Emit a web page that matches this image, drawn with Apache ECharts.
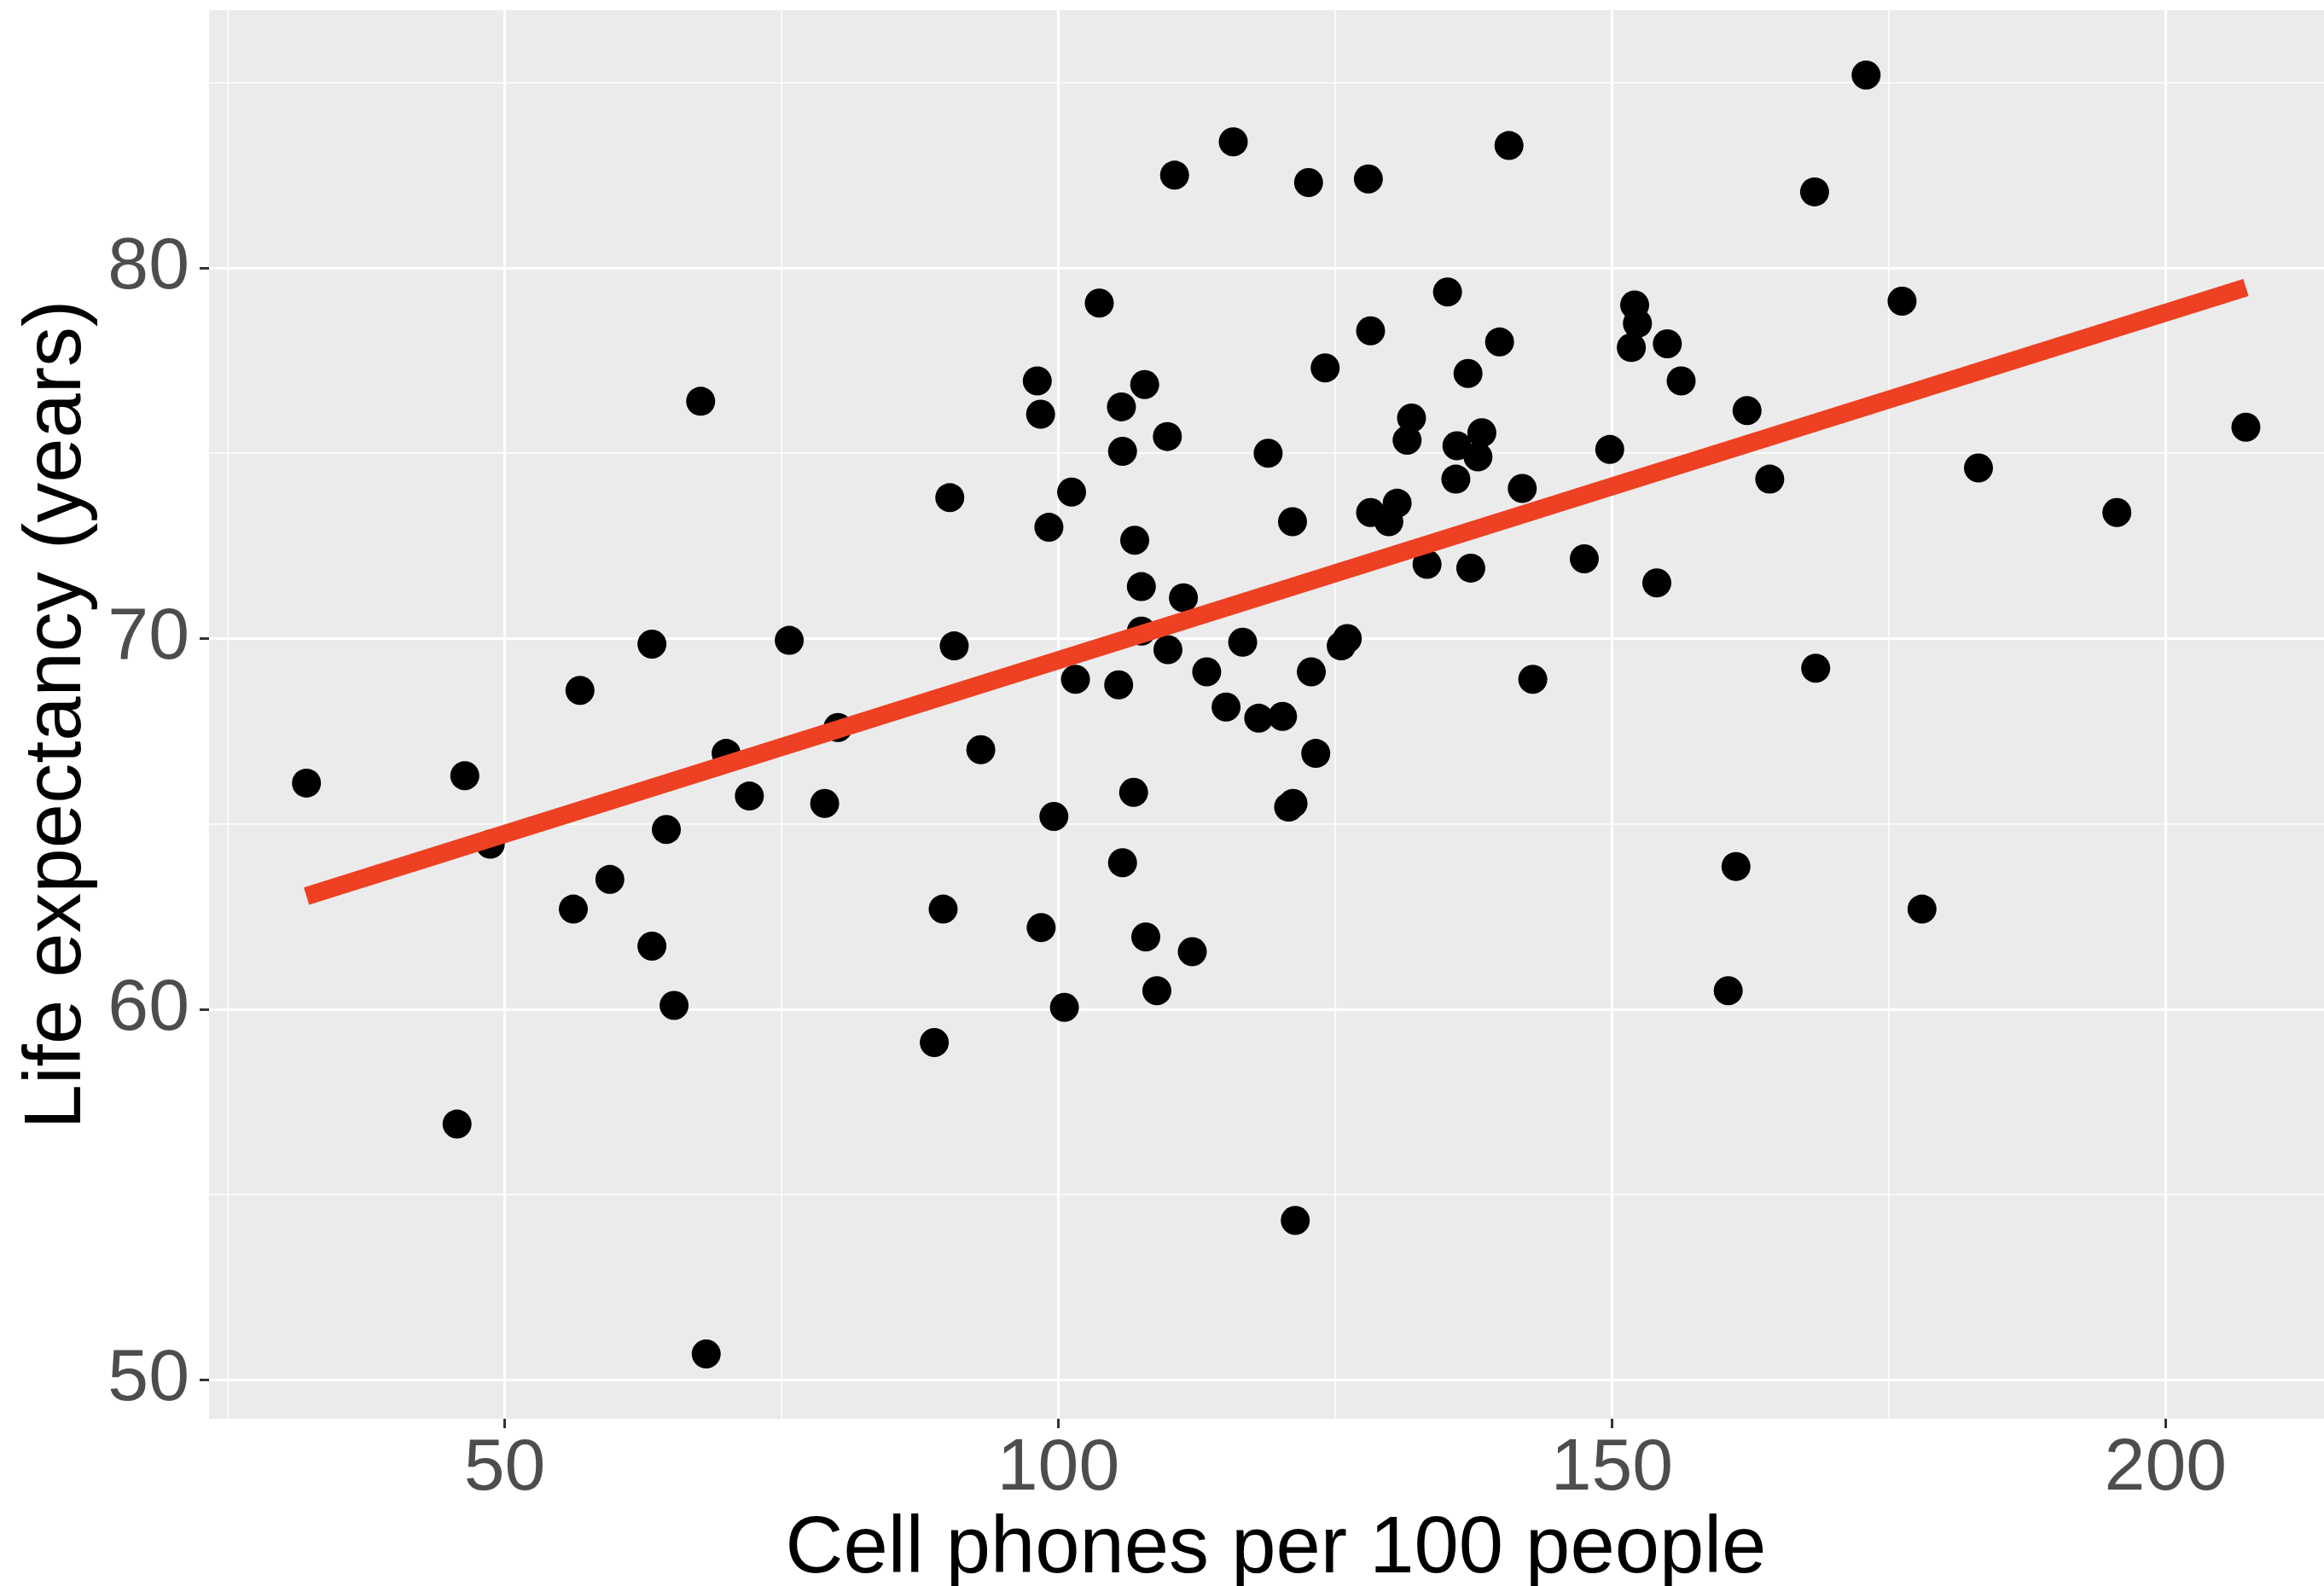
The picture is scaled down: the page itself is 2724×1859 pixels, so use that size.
<!DOCTYPE html>
<html>
<head>
<meta charset="utf-8">
<script src="https://cdn.jsdelivr.net/npm/echarts@6/dist/echarts.min.js"></script>
<style>
  html, body { margin: 0; padding: 0; background: #ffffff; }
  #chart { width: 2724px; height: 1859px; }
</style>
</head>
<body>
<div id="chart"></div>
<script>
// cell phones per 100 people (x) and life expectancy in years (y), one entry per country
const phonesPer100 = [
  32.1, 46.4, 45.7, 48.7, 56.2, 56.8, 59.5, 63.3, 63.3, 64.6,
  65.3, 67.7, 68.2, 70.0, 72.1, 75.7, 78.9, 80.1, 88.8, 89.6,
  90.2, 90.6, 93.0, 98.1, 98.4, 98.45, 99.15, 99.6, 100.55, 101.2,
  101.55, 103.7, 105.45, 105.7, 105.8, 105.8, 106.8, 106.9, 107.5, 107.5,
  107.8, 107.9, 108.9, 109.85, 109.9, 110.5, 111.3, 112.1, 113.4, 115.15,
  115.8, 116.65, 118.1, 118.95, 120.25, 120.8, 121.15, 121.2, 121.4, 122.6,
  122.85, 123.25, 124.1, 125.55, 126.1, 128.0, 128.2, 128.2, 129.85, 130.6,
  131.5, 131.9, 133.3, 135.15, 135.9, 136.0, 137.0, 137.25, 137.9, 138.25,
  139.85, 140.7, 141.9, 142.85, 147.5, 149.8, 151.75, 152.05, 152.3, 154.05,
  155.0, 156.25, 160.5, 161.2, 162.2, 164.25, 168.3, 168.4, 172.95, 176.2,
  178.0, 183.1, 195.6, 207.25
];
const lifeExpectancy = [
  66.1, 66.3, 56.9, 64.45, 62.7, 68.6, 63.5, 69.85, 61.7, 64.85,
  60.1, 76.4, 50.7, 66.9, 65.75, 69.95, 65.55, 67.6, 59.1, 62.7,
  73.8, 69.8, 67.0, 76.95, 76.05, 62.2, 73.0, 65.2, 60.05, 73.95,
  68.9, 79.05, 68.75, 76.25, 75.05, 63.95, 65.85, 72.65, 71.4, 70.2,
  76.85, 61.95, 60.5, 75.45, 69.7, 82.5, 71.1, 61.55, 69.1, 68.15,
  83.4, 69.9, 67.85, 75.0, 67.9, 65.45, 73.15, 65.55, 54.3, 82.3,
  69.1, 66.9, 77.3, 69.8, 70.0, 82.4, 78.3, 73.4, 73.15, 73.65,
  75.35, 75.95, 72.0, 79.35, 74.3, 75.2, 77.15, 71.9, 74.9, 75.55,
  78.0, 83.3, 74.05, 68.9, 72.15, 75.1, 77.85, 79.0, 78.5, 71.5,
  77.95, 76.95, 60.5, 63.85, 76.15, 74.3, 82.05, 69.2, 85.2, 79.1,
  62.7, 74.6, 73.4, 75.7
];

// fitted line, ends
const trendX = [32.1, 207.25];
const trendY = [63.05, 79.47];

// axis ticks and grid lines
const xTicks = [50, 100, 150, 200];
const xMinor = [25, 75, 125, 175];
const yTicks = [50, 60, 70, 80];
const yMinor = [55, 65, 75, 85];

const points = phonesPer100.map((x, i) => [x, lifeExpectancy[i]]);
const trend = trendX.map((x, i) => [x, trendY[i]]);

const font = "'Liberation Sans', Arial, Helvetica, sans-serif";
const xMin = 23.3, xMax = 216.0, yMin = 48.95, yMax = 86.95;

var dom = document.getElementById('chart');
var myChart = echarts.init(dom, null, { renderer: 'canvas' });

var option = {
  backgroundColor: '#ffffff',
  animation: false,
  grid: {
    left: 245,
    top: 12,
    width: 2501,
    height: 1651,
    outerBoundsMode: 'none',
    containLabel: false,
    show: true,
    backgroundColor: '#ebebeb',
    borderWidth: 0
  },
  xAxis: [
    {
      type: 'value',
      min: xMin,
      max: xMax,
      name: 'Cell phones per 100 people',
      nameLocation: 'middle',
      nameGap: 92,
      nameTextStyle: { fontSize: 94, color: '#000000', fontFamily: font },
      axisLine: { show: false },
      axisTick: {
        show: true,
        length: 11,
        customValues: xTicks,
        lineStyle: { color: '#333333', width: 3 }
      },
      axisLabel: {
        customValues: xTicks,
        fontSize: 86,
        color: '#4d4d4d',
        fontFamily: font,
        margin: 16
      },
      splitLine: { show: true, lineStyle: { color: '#ffffff', width: 3 } },
      z: 2
    },
    {
      type: 'value',
      min: xMin,
      max: xMax,
      position: 'bottom',
      axisLine: { show: false },
      axisTick: { show: false, customValues: xMinor },
      axisLabel: { show: false, customValues: xMinor },
      splitLine: { show: true, lineStyle: { color: '#ffffff', width: 1.5 } },
      z: 1
    }
  ],
  yAxis: [
    {
      type: 'value',
      min: yMin,
      max: yMax,
      name: 'Life expectancy (years)',
      nameLocation: 'middle',
      nameGap: 115,
      nameTextStyle: { fontSize: 94, color: '#000000', fontFamily: font },
      axisLine: { show: false },
      axisTick: {
        show: true,
        length: 11,
        customValues: yTicks,
        lineStyle: { color: '#333333', width: 3 }
      },
      axisLabel: {
        customValues: yTicks,
        fontSize: 86,
        color: '#4d4d4d',
        fontFamily: font,
        margin: 23
      },
      splitLine: { show: true, lineStyle: { color: '#ffffff', width: 3 } },
      z: 2
    },
    {
      type: 'value',
      min: yMin,
      max: yMax,
      position: 'left',
      axisLine: { show: false },
      axisTick: { show: false, customValues: yMinor },
      axisLabel: { show: false, customValues: yMinor },
      splitLine: { show: true, lineStyle: { color: '#ffffff', width: 1.5 } },
      z: 1
    }
  ],
  series: [
    {
      name: 'countries',
      type: 'scatter',
      xAxisIndex: 0,
      yAxisIndex: 0,
      data: points,
      symbol: 'circle',
      symbolSize: 34,
      itemStyle: { color: '#000000', opacity: 1 },
      z: 3
    },
    {
      name: 'fit',
      type: 'line',
      xAxisIndex: 0,
      yAxisIndex: 0,
      data: trend,
      symbol: 'none',
      lineStyle: { color: '#ee4023', width: 21, cap: 'butt' },
      z: 4
    }
  ]
};

if (option && typeof option === 'object') {
  myChart.setOption(option);
}

window.addEventListener('resize', myChart.resize);
</script>
</body>
</html>
